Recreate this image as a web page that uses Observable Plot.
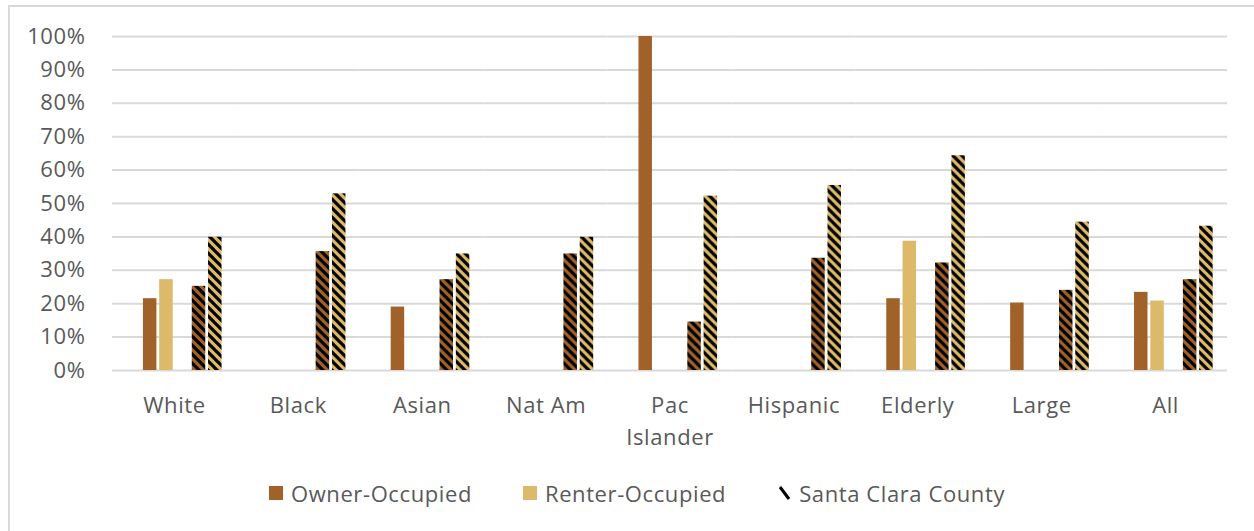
<!DOCTYPE html>
<html>
<head>
<meta charset="utf-8">
<script src="https://cdn.jsdelivr.net/npm/d3@7"></script>
<script src="https://cdn.jsdelivr.net/npm/@observablehq/plot@0.6"></script>
<style>
  html, body { margin: 0; padding: 0; background: #fff; }
  #wrap { position: relative; width: 1254px; height: 531px; overflow: hidden; background: #fff; font-family: "Open Sans", sans-serif; }
  #border { position: absolute; left: 8px; top: 5px; width: 1400px; height: 700px; border: 2px solid #d9d9d9; box-sizing: border-box; pointer-events: none; }
  #chart { position: absolute; left: 0; top: 0; }
  #chart svg text { letter-spacing: 0.6px; }
  #legend { position: absolute; left: 8px; top: 478px; width: 1258px; height: 30px; display: flex; justify-content: center; align-items: center; gap: 51px; font-size: 22px; color: #595959; letter-spacing: 0.6px; }
  .item { display: flex; align-items: center; gap: 8px; }
  .sw { width: 14px; height: 14px; display: inline-block; }
</style>
</head>
<body>
<div id="wrap">
  <div id="chart"></div>
  <div id="border"></div>
  <div id="legend"></div>
</div>
<script>
// ---- Data ----
const categories = ["White", "Black", "Asian", "Nat Am", "Pac Islander", "Hispanic", "Elderly", "Large", "All"];
const categoryLabels = ["White", "Black", "Asian", "Nat Am", "Pac\nIslander", "Hispanic", "Elderly", "Large", "All"];
const ownerOccupied  = [21.5, null, 19.0, null, 100, null, 21.5, 20.2, 23.4];
const renterOccupied = [27.2, null, null, null, null, null, 38.7, null, 20.8];
const sccOwner       = [25.2, 35.6, 27.2, 34.9, 14.5, 33.6, 32.2, 24.0, 27.2];
const sccRenter      = [39.9, 52.9, 34.9, 39.9, 52.2, 55.4, 64.3, 44.4, 43.2];
const yTicks = [0, 10, 20, 30, 40, 50, 60, 70, 80, 90, 100];
const legendNames = ["Owner-Occupied", "Renter-Occupied", "Santa Clara County"];

// slot keys within each category group (middle slot left empty)
const slots = ["owner", "renter", "gap", "sccOwner", "sccRenter"];
const seriesArrays = {owner: ownerOccupied, renter: renterOccupied, sccOwner: sccOwner, sccRenter: sccRenter};

const rows = [];
for (const key of ["owner", "renter", "sccOwner", "sccRenter"]) {
  categories.forEach((c, i) => {
    const v = seriesArrays[key][i];
    if (v != null) rows.push({category: c, slot: key, value: v / 100});
  });
}

const colors = {
  owner: "#A16229",
  renter: "#DDB96A",
  sccOwner: "url(#hatchOwner)",
  sccRenter: "url(#hatchRenter)"
};

const textColor = "#595959";

const chart = Plot.plot({
  width: 1254,
  height: 460,
  marginLeft: 112,
  marginRight: 27,
  marginTop: 36,
  marginBottom: 90,
  style: {background: "transparent", fontFamily: "'Open Sans', sans-serif", color: textColor},
  fx: {domain: categories, padding: 0, round: false, label: null},
  x: {domain: slots, paddingInner: 0.172, paddingOuter: 1.39, align: 0.683, round: false, axis: null},
  y: {domain: [0, 1], label: null, axis: null},
  marks: [
    Plot.gridY(yTicks.map(d => d / 100), {stroke: "#d9d9d9", strokeOpacity: 1, strokeWidth: 2}),
    ...["owner", "renter", "sccOwner", "sccRenter"].map(key =>
      Plot.barY(rows.filter(r => r.slot === key), {fx: "category", x: "slot", y: "value", fill: colors[key]})
    ),
    Plot.axisY(yTicks.map(d => d / 100), {
      tickSize: 0, tickPadding: 27, fontSize: 22, fill: textColor,
      tickFormat: d => Math.round(d * 100) + "%", label: null
    }),
    Plot.axisFx({
      anchor: "bottom", tickSize: 0, tickPadding: 20, fontSize: 22, fill: textColor, lineHeight: 1.45,
      tickFormat: d => categoryLabels[categories.indexOf(d)], label: null
    })
  ]
});

// patterns for the Santa Clara County bars
const defs = d3.select(chart).insert("defs", ":first-child");
function hatch(id, bg) {
  const s = 9;
  const p = defs.append("pattern").attr("id", id).attr("patternUnits", "userSpaceOnUse")
    .attr("width", s).attr("height", s);
  p.append("rect").attr("width", s).attr("height", s).attr("fill", bg);
  p.append("path").attr("d", `M-2,-2L${s + 2},${s + 2}M${-s - 2},-2L2,${s + 2}M${s - 2},-2L${2 * s + 2},${s + 2}`)
    .attr("stroke", "#000").attr("stroke-width", 3.2).attr("fill", "none");
}
hatch("hatchOwner", colors.owner);
hatch("hatchRenter", colors.renter);

document.getElementById("chart").appendChild(chart);

// legend
const legend = document.getElementById("legend");
const swatches = [
  `<span class="sw" style="background:${colors.owner}"></span>`,
  `<span class="sw" style="background:${colors.renter}"></span>`,
  `<svg class="sw" width="14" height="14" viewBox="0 0 14 14"><path d="M3,1L12,13" stroke="#000" stroke-width="3"/></svg>`
];
legendNames.forEach((name, i) => {
  const it = document.createElement("span");
  it.className = "item";
  it.innerHTML = swatches[i] + `<span>${name}</span>`;
  legend.appendChild(it);
});
</script>
</body>
</html>
